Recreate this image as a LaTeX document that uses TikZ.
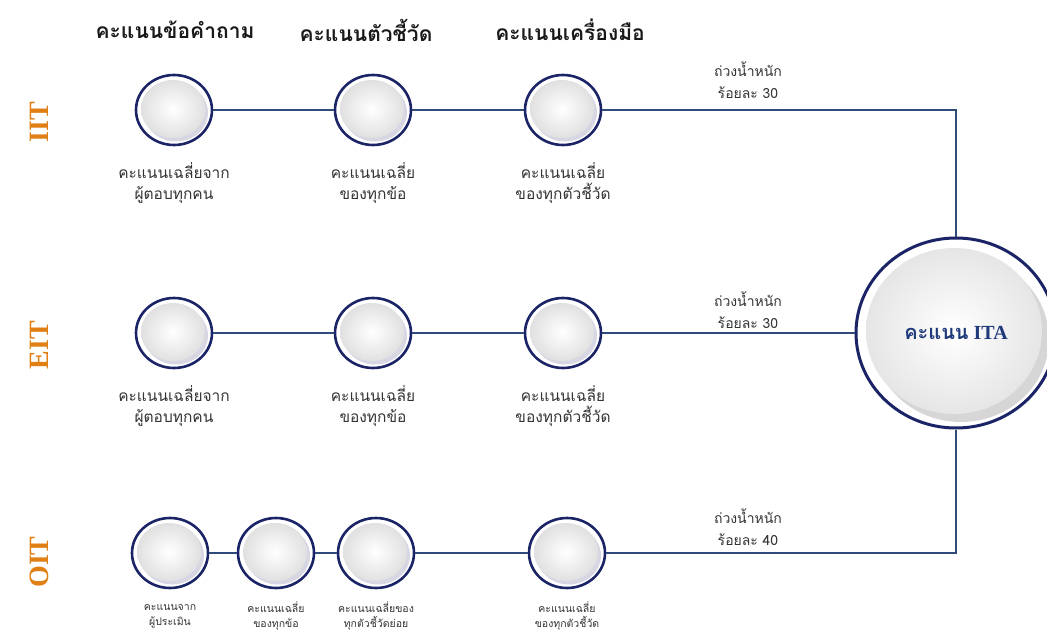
\documentclass[tikz,border=0pt]{standalone}
\usepackage{fontspec}
\setmainfont{Liberation Serif}
\newfontfamily\thai[Script=Thai]{Loma}
\usetikzlibrary{shapes.geometric,positioning}

\definecolor{ringblue}{HTML}{1B2466}
\definecolor{wireblue}{HTML}{2F4B7A}
\definecolor{rowamber}{HTML}{E07F14}
\definecolor{labelgrey}{HTML}{333333}
\definecolor{itablue}{HTML}{1F3A7A}

\tikzset{
  score/.style={ellipse, draw=ringblue, line width=2.6pt, fill=white, inner sep=0pt,
    minimum width=76pt, minimum height=70pt,
    path picture={
      \fill[ringblue!18] ([shift={(2pt,-2.5pt)}]path picture bounding box.center)
        ellipse [x radius=32pt, y radius=29pt];
      \shade[inner color=white, outer color=black!12] ([shift={(-1pt,1pt)}]path picture bounding box.center)
        ellipse [x radius=32pt, y radius=29pt];
    }},
  hub/.style={ellipse, draw=ringblue, line width=3pt, fill=white, inner sep=0pt,
    minimum width=200pt, minimum height=190pt, text=itablue,
    font=\bfseries\fontsize{20}{24}\selectfont,
    path picture={
      \fill[black!16] ([shift={(5pt,-6pt)}]path picture bounding box.center)
        ellipse [x radius=88pt, y radius=83pt];
      \shade[inner color=white, outer color=black!10] ([shift={(-2pt,2pt)}]path picture bounding box.center)
        ellipse [x radius=88pt, y radius=83pt];
    }},
  wire/.style={draw=wireblue, line width=1.2pt},
  note/.style={font=\thai\fontsize{15.5}{21}\selectfont, text=labelgrey, align=center},
  weight/.style={font=\thai\fontsize{14}{22}\selectfont, text=labelgrey, align=center},
  smallnote/.style={font=\thai\fontsize{10.5}{15}\selectfont, text=labelgrey, align=center},
  colhead/.style={font=\thai\bfseries\fontsize{21}{24}\selectfont, text=black!90},
  rowtag/.style={rotate=90, text=rowamber, font=\bfseries\fontsize{28}{28}\selectfont}
}

\begin{document}
\begin{tikzpicture}[x=1pt,y=-1pt]
  \useasboundingbox (0,0) rectangle (1047,637);

  \node (hq) [colhead] at (175,30) {คะแนนข้อคำถาม};
  \node (hk) [colhead] at (366,30) {คะแนนตัวชี้วัด};
  \node (ht) [colhead] at (570,30) {คะแนนเครื่องมือ};

  \node (tagiit) [rowtag] at (39,122) {IIT};
  \node (tageit) [rowtag] at (39,345) {EIT};
  \node (tagoit) [rowtag] at (39,562) {OIT};

  \node (ita)  [hub] at (956,333) {{\thai คะแนน} ITA};

  \node (iit1) [score] at (174,110)                       {};
  \node (iit2) [score, node distance=199pt, right of=iit1] {};
  \node (iit3) [score, node distance=190pt, right of=iit2] {};
  \node (eit1) [score, node distance=223pt, below of=iit1] {};
  \node (eit2) [score, node distance=199pt, right of=eit1] {};
  \node (eit3) [score, node distance=190pt, right of=eit2] {};
  \node (oit1) [score] at (170,553)                       {};
  \node (oit2) [score, node distance=106pt, right of=oit1] {};
  \node (oit3) [score, node distance=100pt, right of=oit2] {};
  \node (oit4) [score, node distance=191pt, right of=oit3] {};

  \node (iit1t) [note, node distance=73pt, below of=iit1] {คะแนนเฉลี่ยจาก\\ผู้ตอบทุกคน};
  \node (iit2t) [note, node distance=73pt, below of=iit2] {คะแนนเฉลี่ย\\ของทุกข้อ};
  \node (iit3t) [note, node distance=73pt, below of=iit3] {คะแนนเฉลี่ย\\ของทุกตัวชี้วัด};
  \node (eit1t) [note, node distance=73pt, below of=eit1] {คะแนนเฉลี่ยจาก\\ผู้ตอบทุกคน};
  \node (eit2t) [note, node distance=73pt, below of=eit2] {คะแนนเฉลี่ย\\ของทุกข้อ};
  \node (eit3t) [note, node distance=73pt, below of=eit3] {คะแนนเฉลี่ย\\ของทุกตัวชี้วัด};
  \node (oit1t) [smallnote, node distance=63pt, below of=oit1] {คะแนนจาก\\ผู้ประเมิน};
  \node (oit2t) [smallnote, node distance=63pt, below of=oit2] {คะแนนเฉลี่ย\\ของทุกข้อ};
  \node (oit3t) [smallnote, node distance=63pt, below of=oit3] {คะแนนเฉลี่ยของ\\ทุกตัวชี้วัดย่อย};
  \node (oit4t) [smallnote, node distance=63pt, below of=oit4] {คะแนนเฉลี่ย\\ของทุกตัวชี้วัด};

  \node (iitw) [weight] at (748,80)  {ถ่วงน้ำหนัก\\ร้อยละ 30};
  \node (eitw) [weight] at (748,310) {ถ่วงน้ำหนัก\\ร้อยละ 30};
  \node (oitw) [weight] at (748,527) {ถ่วงน้ำหนัก\\ร้อยละ 40};

  \draw [wire] (iit1) -- (iit2);
  \draw [wire] (iit2) -- (iit3);
  \draw [wire] (iit3) -| (ita);
  \draw [wire] (eit1) -- (eit2);
  \draw [wire] (eit2) -- (eit3);
  \draw [wire] (eit3) -- (ita);
  \draw [wire] (oit1) -- (oit2);
  \draw [wire] (oit2) -- (oit3);
  \draw [wire] (oit3) -- (oit4);
  \draw [wire] (oit4) -| (ita);
\end{tikzpicture}
\end{document}
